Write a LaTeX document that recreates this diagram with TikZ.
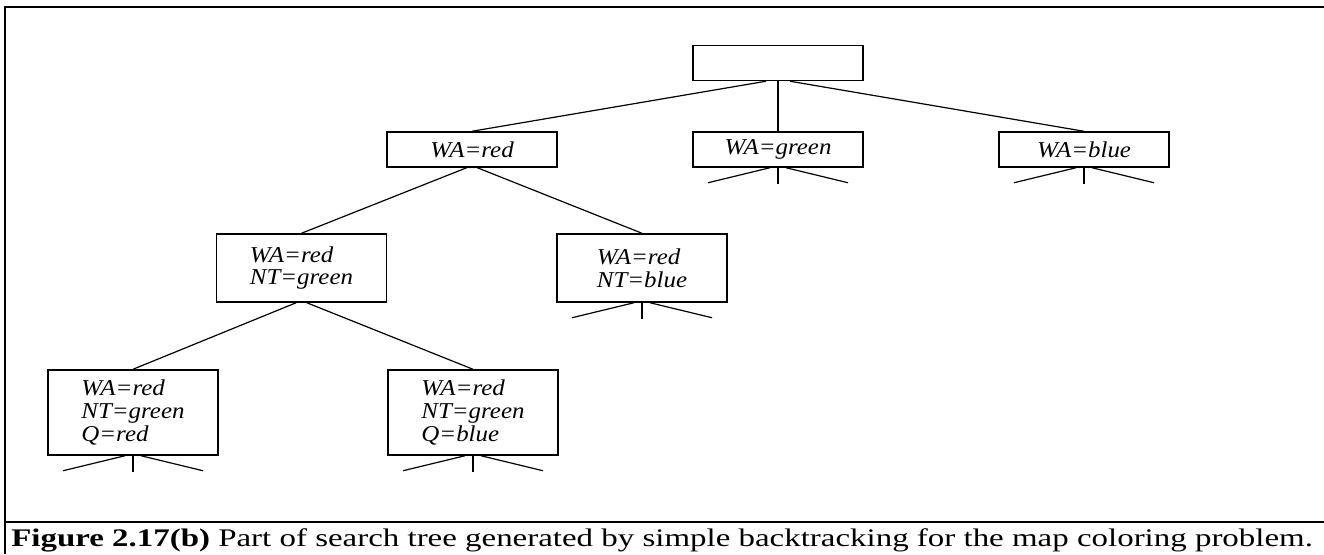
\documentclass[tikz,border=0pt]{standalone}
\usepackage{fontspec}
\setmainfont{Liberation Serif}
\newfontfamily\statefont[FakeStretch=1.1]{Liberation Serif}
\newfontfamily\capfont[FakeStretch=1.3]{Liberation Serif}
\usetikzlibrary{calc}

\begin{document}
\begin{tikzpicture}[
    x=0.75pt, y=-0.75pt,
    text=black,
    state/.style={draw=black, line width=1.1pt, minimum width=127.5pt, inner sep=0pt, align=left, font=\statefont\fontsize{17}{17}\selectfont\itshape},
    lvlone/.style={state, minimum height=26.25pt},
    lvltwo/.style={state, minimum height=51pt},
    lvlthree/.style={state, minimum height=63.75pt},
    branch/.style={line width=0.9pt},
    frame/.style={line width=1.8pt}
]

% ==================== FRAME ====================
\useasboundingbox (0,0) rectangle (1324,554);
\coordinate (tl) at (5,7);
\coordinate (tr) at (1324,7);
\coordinate (bl) at (5,554);
\coordinate (ml) at (5,522);
\coordinate (mr) at (1324,522);
\draw[frame] (bl) -- (tl) -- (tr);
\draw[frame] (ml) -- (mr);

% ==================== TREE ====================
% Root
\node[lvlone] (root) at (778, 63) {};

% First level
\node[lvlone] (wared) at (472, 149.5) {\textit{WA=red}};
\node[lvlone] (wagreen) at (778, 149.5) {\textit{WA=green}};
\node[lvlone] (wablue) at (1084, 149.5) {\textit{WA=blue}};

% Second level
\node[lvltwo] (ntgreen) at (301.5, 268) {\textit{WA=red}\\\textit{NT=green}};
\node[lvltwo] (ntblue) at (642, 268) {\textit{WA=red}\\\textit{NT=blue}};

% Third level
\node[lvlthree] (qred) at (133, 412.5) {\textit{WA=red}\\\textit{NT=green}\\\textit{Q=red}};
\node[lvlthree] (qblue) at (473, 412.5) {\textit{WA=red}\\\textit{NT=green}\\\textit{Q=blue}};

% Branches
\draw[branch] ([xshift=-9pt]root.south) -- (wared.north);
\draw[branch] (root.south) -- (wagreen.north);
\draw[branch] ([xshift=9pt]root.south) -- (wablue.north);
\draw[branch] ([xshift=-4pt]wared.south) -- (ntgreen.north);
\draw[branch] ([xshift=4pt]wared.south) -- (ntblue.north);
\draw[branch] ([xshift=-4pt]ntgreen.south) -- (qred.north);
\draw[branch] ([xshift=4pt]ntgreen.south) -- (qblue.north);

% Unexpanded subtrees
\foreach \n in {wagreen, wablue, ntblue, qred, qblue} {
    \coordinate (\n-l) at ($(\n.south)+(-70,15)$);
    \coordinate (\n-m) at ($(\n.south)+(0,16)$);
    \coordinate (\n-r) at ($(\n.south)+(70,15)$);
    \draw[branch] ([xshift=-6pt]\n.south) -- (\n-l);
    \draw[branch] (\n.south) -- (\n-m);
    \draw[branch] ([xshift=6pt]\n.south) -- (\n-r);
}

% ==================== CAPTION ====================
\node[anchor=base west, inner sep=0pt, font=\capfont\fontsize{19}{21}\selectfont] (caption) at (11, 546)
    {\textbf{Figure 2.17(b)} Part of search tree generated by simple backtracking for the map coloring problem.};

\end{tikzpicture}
\end{document}
